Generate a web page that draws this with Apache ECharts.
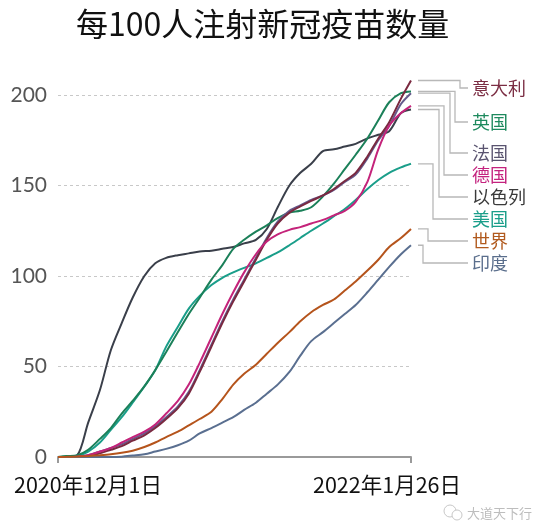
<!DOCTYPE html>
<html><head><meta charset="utf-8">
<script src="https://cdn.jsdelivr.net/npm/echarts@6/dist/echarts.min.js"></script>
<style>html,body{margin:0;padding:0;background:#fff}#c{width:550px;height:532px}</style>
</head><body><div id="c"></div>
<script>
// days since 2020-12-01
const dayOffsets = [0, 10, 23, 36, 50, 63, 76, 89, 103, 116, 129, 143, 156, 169, 183, 196, 209, 222, 236, 249, 262, 276, 289, 302, 316, 329, 342, 355, 369, 382, 395, 409, 421];
const israel  = [0, 0, 1, 19, 37, 59, 74, 88, 100, 107, 110, 111.5, 112.5, 113.5, 114, 115, 116, 118, 120, 126, 138, 150, 157, 162, 169, 170, 171.5, 173, 176, 178, 180, 190, 192];
const usa     = [0, 0, 0.5, 3, 8, 15, 22, 30, 39, 48, 61, 72, 82, 89, 95, 99, 102, 104.5, 107, 110, 113, 117, 121, 125, 129, 133, 137, 142, 148, 153, 157, 160, 162];
const uk      = [0, 0.5, 1, 4, 10, 16, 24, 31, 39, 48, 58, 69, 79, 88, 98, 106, 115, 120, 124.5, 128, 132, 135, 136, 138, 144, 151, 159, 167, 176, 186, 196, 201, 202];
const france  = [0, 0, 0.2, 1, 3, 5, 7, 10, 13, 17, 22, 28, 36, 48, 62, 75, 87, 98, 110, 121, 130, 136, 139, 142, 144.5, 147.5, 152, 156, 165, 175, 183, 195, 201];
const italy   = [0, 0, 0, 0.5, 2, 4, 6, 9, 12, 16, 21, 27, 35, 47, 61, 74, 86, 97, 109, 120, 129, 135, 138.5, 141.5, 144.5, 148, 152.5, 157, 166, 176, 185, 198, 208];
const germany = [0, 0, 0.2, 1, 3, 5, 8, 11, 14, 18, 24, 31, 40, 52, 66, 79, 91, 102, 112, 119, 123, 125.5, 127, 129, 131, 133.5, 136, 141, 152, 170, 183, 190, 194];
const india   = [0, 0, 0, 0, 0, 0, 0.2, 0.8, 1.5, 3, 4.5, 6.5, 9, 13, 16, 19, 22, 26, 30, 35, 40, 47, 56, 64, 69, 74, 79, 84, 91, 98, 105, 112, 117];
const world   = [0, 0.1, 0.3, 0.6, 1, 1.5, 2.3, 3.5, 5.5, 8, 11, 14, 17.5, 21, 25, 32, 40, 46, 51, 57, 63, 69, 75, 80, 84, 87, 92, 97, 103, 109, 116, 121, 126];

const titleText = '每100人注射新冠疫苗数量';
const xTickDays = [0, 421];
const xTickLabels = ['2020年12月1日', '2022年1月26日'];
const yTicks = [0, 50, 100, 150, 200];
const watermark = '大道天下行';

// draw order (bottom to top)
const seriesList = [
  {name: '以色列', data: israel,  color: '#3a3f4a', label: '#3a3a3a'},
  {name: '美国',   data: usa,     color: '#1a9e8a', label: '#1a9e8a'},
  {name: '英国',   data: uk,      color: '#1b8059', label: '#1e8a5e'},
  {name: '法国',   data: france,  color: '#655a8c', label: '#5a5470'},
  {name: '意大利', data: italy,   color: '#7a2940', label: '#7b2d43'},
  {name: '德国',   data: germany, color: '#c4237a', label: '#c4237e'},
  {name: '印度',   data: india,   color: '#5a6f90', label: '#5a6e8c'},
  {name: '世界',   data: world,   color: '#b5541c', label: '#b15a1e'}
];
// right-hand labels, top to bottom
const labelOrder = ['意大利', '英国', '法国', '德国', '以色列', '美国', '世界', '印度'];
const labelLayout = {y: [88, 122, 153, 175, 197, 219, 241, 263], elbowX: [460, 455, 450, 444, 439, 433, 428, 423], startX: 418, endX: 468, textX: 472};

const chart = echarts.init(document.getElementById('c'), null, {renderer: 'canvas'});
const cjk = '"Noto Sans CJK SC", "Noto Sans", sans-serif';

const option = {
  animation: false,
  backgroundColor: '#fff',
  title: {text: titleText, left: 76, top: 8, padding: 0,
    textStyle: {fontSize: 32, fontWeight: 'normal', color: '#111', fontFamily: cjk}},
  grid: {left: 58, right: 139, top: 95, bottom: 75, containLabel: false},
  xAxis: {
    type: 'value', min: 0, max: 421,
    axisLine: {show: true, lineStyle: {color: '#9a9a9a', width: 2}},
    axisTick: {show: true, customValues: xTickDays, length: 6, lineStyle: {color: '#9a9a9a', width: 2}},
    splitLine: {show: false},
    axisLabel: {
      customValues: xTickDays, margin: 17,
      formatter: v => v === xTickDays[0] ? '{a|' + xTickLabels[0] + '}' : '{b|' + xTickLabels[1] + '}',
      rich: {
        a: {fontSize: 21.5, color: '#111', fontFamily: cjk, padding: [0, 0, 0, 60]},
        b: {fontSize: 21.5, color: '#111', fontFamily: cjk, padding: [0, 48, 0, 0]}
      }
    }
  },
  yAxis: {
    type: 'value', min: 0, max: 200, interval: 50,
    axisLine: {show: false}, axisTick: {show: false},
    axisLabel: {fontSize: 21, color: '#555', fontFamily: 'Lato', margin: 11,
      formatter: v => yTicks.includes(v) ? String(v) : ''},
    splitLine: {show: true, lineStyle: {color: '#c8c8c8', width: 1, type: [3, 3]}}
  },
  series: seriesList.map((s, i) => ({
    name: s.name, type: 'line', data: dayOffsets.map((d, k) => [d, s.data[k]]),
    showSymbol: false, smooth: 0.3, clip: false, z: 3 + i,
    lineStyle: {color: s.color, width: 2}, itemStyle: {color: s.color}
  }))
};
chart.setOption(option);

const last = dayOffsets.length - 1;
const graphics = [];
labelOrder.forEach((name, i) => {
  const s = seriesList.find(t => t.name === name);
  const p = chart.convertToPixel({xAxisIndex: 0, yAxisIndex: 0}, [dayOffsets[last], s.data[last]]);
  const ly = labelLayout.y[i], ex = labelLayout.elbowX[i];
  graphics.push({type: 'polyline', silent: true, z: 1,
    shape: {points: [[labelLayout.startX, p[1]], [ex, p[1]], [ex, ly], [labelLayout.endX, ly]]},
    style: {stroke: '#b8b8b8', lineWidth: 1.3, fill: 'none'}});
  graphics.push({type: 'text', silent: true, x: labelLayout.textX, y: ly,
    style: {text: name, fill: s.label, fontSize: 18, fontFamily: cjk, verticalAlign: 'middle', align: 'left'}});
});
graphics.push({type: 'circle', silent: true, shape: {cx: 450, cy: 511, r: 6}, style: {stroke: '#c8c8c8', lineWidth: 1, fill: 'none'}});
graphics.push({type: 'circle', silent: true, shape: {cx: 457, cy: 515, r: 5}, style: {stroke: '#c8c8c8', lineWidth: 1, fill: '#fff'}});
graphics.push({type: 'text', silent: true, x: 467, y: 513,
  style: {text: watermark, fill: '#bdbdbd', fontSize: 13, fontFamily: cjk, verticalAlign: 'middle'}});
chart.setOption({graphic: graphics});
</script>
</body></html>
